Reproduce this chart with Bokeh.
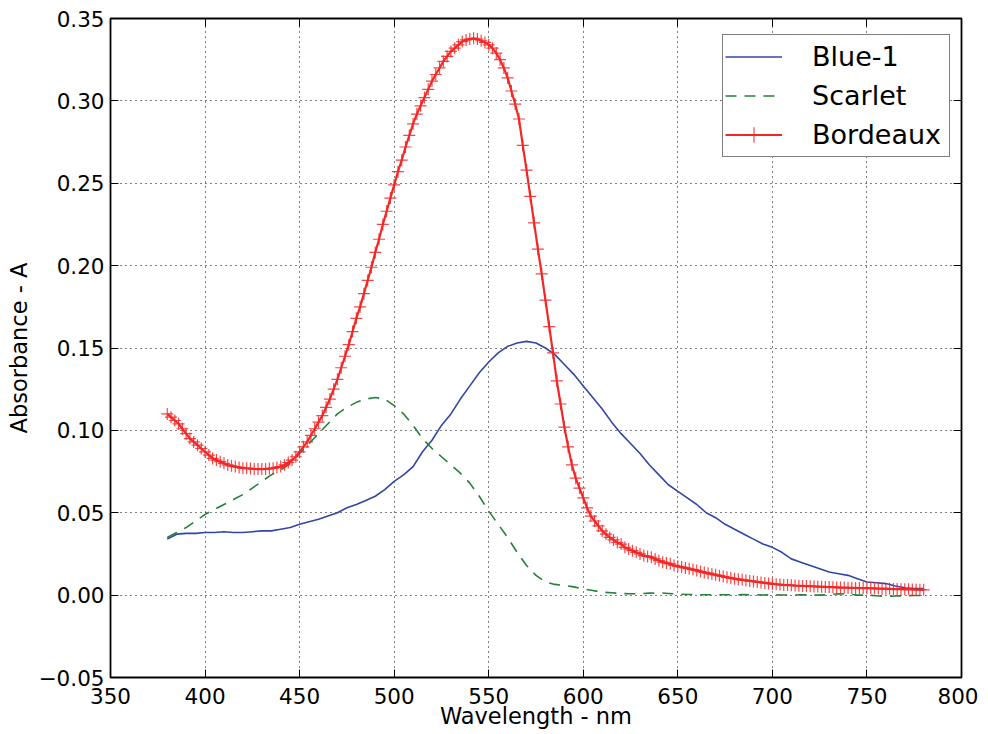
import math
from bokeh.plotting import figure
from bokeh.models import Range1d, FixedTicker, LinearAxis, CustomJSTickFormatter
from bokeh.embed import file_html
from bokeh.resources import INLINE

# ---------------- data ----------------
x_ticks = [350, 400, 450, 500, 550, 600, 650, 700, 750, 800]
y_ticks = [-0.05, 0.0, 0.05, 0.10, 0.15, 0.20, 0.25, 0.30, 0.35]

wl_5nm = list(range(380, 781, 5))      # sampling grid of Blue-1 / Scarlet
wl_2nm = list(range(380, 781, 2))      # sampling grid of Bordeaux

blue1 = [
    0.034, 0.037, 0.0375, 0.0375, 0.038, 0.038, 0.0385, 0.038, 0.038, 0.0385,
    0.039, 0.039, 0.040, 0.041, 0.043, 0.0445, 0.046, 0.048, 0.050, 0.053,
    0.055, 0.0575, 0.060, 0.064, 0.069, 0.073, 0.078, 0.087, 0.094, 0.103,
    0.110, 0.119, 0.127, 0.135, 0.1415, 0.147, 0.151, 0.153, 0.154, 0.153,
    0.150, 0.146, 0.140, 0.134, 0.127, 0.120, 0.113, 0.105, 0.098, 0.092,
    0.086, 0.079, 0.073, 0.067, 0.063, 0.059, 0.055, 0.050, 0.047, 0.043,
    0.040, 0.037, 0.034, 0.031, 0.029, 0.026, 0.022, 0.020, 0.018, 0.016,
    0.014, 0.013, 0.012, 0.010, 0.008, 0.0075, 0.007, 0.0055, 0.0045, 0.004,
    0.004,
]

scarlet = [
    0.035, 0.038, 0.041, 0.045, 0.049, 0.052, 0.055, 0.058, 0.061, 0.065,
    0.069, 0.073, 0.076, 0.080, 0.086, 0.092, 0.098, 0.104, 0.110, 0.114,
    0.117, 0.119, 0.120, 0.119, 0.115, 0.110, 0.103, 0.095, 0.089, 0.084,
    0.079, 0.074, 0.068, 0.060, 0.051, 0.043, 0.035, 0.026, 0.018, 0.012,
    0.008, 0.0065, 0.0058, 0.005, 0.0038, 0.0028, 0.0018, 0.0014, 0.001, 0.0008,
    0.0008, 0.0012, 0.0014, 0.001, 0.0006, 0.0004, 0.0003, 0.0002, 0.0003, 0.0002,
    0.0002, 0.0003, 0.0002, 0.0001, 0.0002, 0.0001, 0.0, 0.0002, 0.0001, 0.0,
    0.0003, 0.0008, 0.0006, 0.0, 0.0, -0.0004, -0.0008, -0.0005, -0.0004, -0.0002,
    -0.0002,
]

bordeaux = [
    0.110, 0.108, 0.106, 0.104, 0.101, 0.098, 0.095, 0.093, 0.091, 0.089,
    0.087, 0.085, 0.083, 0.082, 0.081, 0.080, 0.079, 0.0785, 0.078, 0.0775,
    0.077, 0.077, 0.0768, 0.0766, 0.0765, 0.0765, 0.0766, 0.0768, 0.077, 0.0775,
    0.078, 0.079, 0.0805, 0.082, 0.084, 0.087, 0.090, 0.093, 0.097, 0.101,
    0.105, 0.109, 0.114, 0.119, 0.125, 0.131, 0.138, 0.145, 0.152, 0.160,
    0.168, 0.175, 0.183, 0.191, 0.199, 0.208, 0.216, 0.225, 0.233, 0.241,
    0.249, 0.257, 0.264, 0.272, 0.279, 0.286, 0.292, 0.297, 0.302, 0.307,
    0.312, 0.316, 0.320, 0.324, 0.327, 0.330, 0.332, 0.334, 0.336, 0.337,
    0.3375, 0.338, 0.3375, 0.3365, 0.3355, 0.334, 0.332, 0.329, 0.325, 0.320,
    0.314, 0.306, 0.298, 0.289, 0.273, 0.258, 0.242, 0.226, 0.210, 0.195,
    0.179, 0.163, 0.147, 0.130, 0.116, 0.102, 0.090, 0.079, 0.071, 0.065,
    0.059, 0.053, 0.048, 0.045, 0.042, 0.039, 0.037, 0.035, 0.0335, 0.032,
    0.031, 0.029, 0.028, 0.027, 0.026, 0.025, 0.024, 0.0235, 0.023, 0.022,
    0.021, 0.020, 0.0195, 0.019, 0.018, 0.0175, 0.017, 0.0165, 0.016, 0.0155,
    0.015, 0.0143, 0.0138, 0.0133, 0.0128, 0.0123, 0.0118, 0.0113, 0.0108, 0.0104,
    0.0100, 0.0096, 0.0093, 0.0089, 0.0086, 0.0083, 0.0080, 0.0077, 0.0074, 0.0071,
    0.0068, 0.0066, 0.0064, 0.0062, 0.0061, 0.0060, 0.0058, 0.0057, 0.0056, 0.0055,
    0.0054, 0.0053, 0.0052, 0.0051, 0.0050, 0.0049, 0.0048, 0.0047, 0.0046, 0.0046,
    0.0045, 0.0044, 0.0044, 0.0043, 0.0043, 0.0042, 0.0041, 0.0041, 0.0040, 0.0039,
    0.0039, 0.0038, 0.0037, 0.0037, 0.0036, 0.0035, 0.0035, 0.0034, 0.0033, 0.0033,
    0.0032,
]

assert len(blue1) == len(wl_5nm) and len(scarlet) == len(wl_5nm)
assert len(bordeaux) == len(wl_2nm)

x_title = "Wavelength - nm"
y_title = "Absorbance - A"

# ---------------- styling ----------------
FONT = "DejaVu Sans"
BLUE = "#3346a3"
GREEN = "#24803c"
RED = "#f52626"

p = figure(width=978, height=733, output_backend="svg", toolbar_location=None,
           x_range=Range1d(350, 800), y_range=Range1d(-0.05, 0.35),
           min_border_left=110, min_border_right=17,
           min_border_top=18, min_border_bottom=56)
p.background_fill_color = "white"
p.border_fill_color = "white"
p.outline_line_color = "black"
p.outline_line_width = 1.8

bottom_axis = p.below[0]
left_axis = p.left[0]

xt = FixedTicker(ticks=x_ticks)
yt = FixedTicker(ticks=y_ticks)

blank = CustomJSTickFormatter(code="return '';")
top_axis = LinearAxis(ticker=xt, formatter=blank)
right_axis = LinearAxis(ticker=yt, formatter=blank)
p.add_layout(top_axis, "above")
p.add_layout(right_axis, "right")

bottom_axis.ticker = xt
left_axis.ticker = yt
left_axis.formatter = CustomJSTickFormatter(code="""
    return (tick < -1e-9 ? '\u2212' : '') + Math.abs(tick).toFixed(2);
""")

for ax in [bottom_axis, left_axis, top_axis, right_axis]:
    ax.axis_line_color = None
    ax.major_tick_in = 8
    ax.major_tick_out = 0
    ax.major_tick_line_color = "black"
    ax.major_tick_line_width = 1
    ax.minor_tick_line_color = None
    ax.major_label_text_font = FONT
    ax.major_label_text_font_size = "21.5px"
    ax.major_label_text_color = "black"
    ax.major_label_standoff = 6

for ax in [top_axis, right_axis]:
    ax.major_label_standoff = 0
bottom_axis.major_label_standoff = 10

bottom_axis.axis_label = x_title
bottom_axis.axis_label_standoff = -4
left_axis.axis_label = y_title
left_axis.axis_label_standoff = 4
for ax in [bottom_axis, left_axis]:
    ax.axis_label_text_font = FONT
    ax.axis_label_text_font_size = "22.5px"
    ax.axis_label_text_font_style = "normal"
    ax.axis_label_text_color = "black"

for g in p.grid:
    g.grid_line_color = "black"
    g.grid_line_dash = "1 4"
    g.grid_line_width = 1
    g.grid_line_alpha = 1.0
p.xgrid.ticker = xt
p.ygrid.ticker = yt

# ---------------- series ----------------
p.line(wl_5nm, blue1, line_color=BLUE, line_width=1.6, legend_label="Blue-1")
p.line(wl_5nm, scarlet, line_color=GREEN, line_width=1.6,
       line_dash="11 8", legend_label="Scarlet")
p.line(wl_2nm, bordeaux, line_color=RED, line_width=2.2, legend_label="Bordeaux")
p.scatter(wl_2nm, bordeaux, marker="cross", size=12, line_color=RED,
          line_width=1.2, line_alpha=0.85, legend_label="Bordeaux")

# ---------------- legend ----------------
lg = p.legend[0]
lg.location = (612, 520)
lg.label_text_font = FONT
lg.label_text_font_size = "27px"
lg.label_text_color = "black"
lg.glyph_width = 57
lg.glyph_height = 39
lg.label_standoff = 30
lg.label_width = 135
lg.padding = 2
lg.spacing = 0
lg.margin = 0
lg.border_line_color = "black"
lg.border_line_width = 1.5
lg.background_fill_color = "white"
lg.background_fill_alpha = 1.0

open("out.html", "w").write(file_html(p, INLINE))
